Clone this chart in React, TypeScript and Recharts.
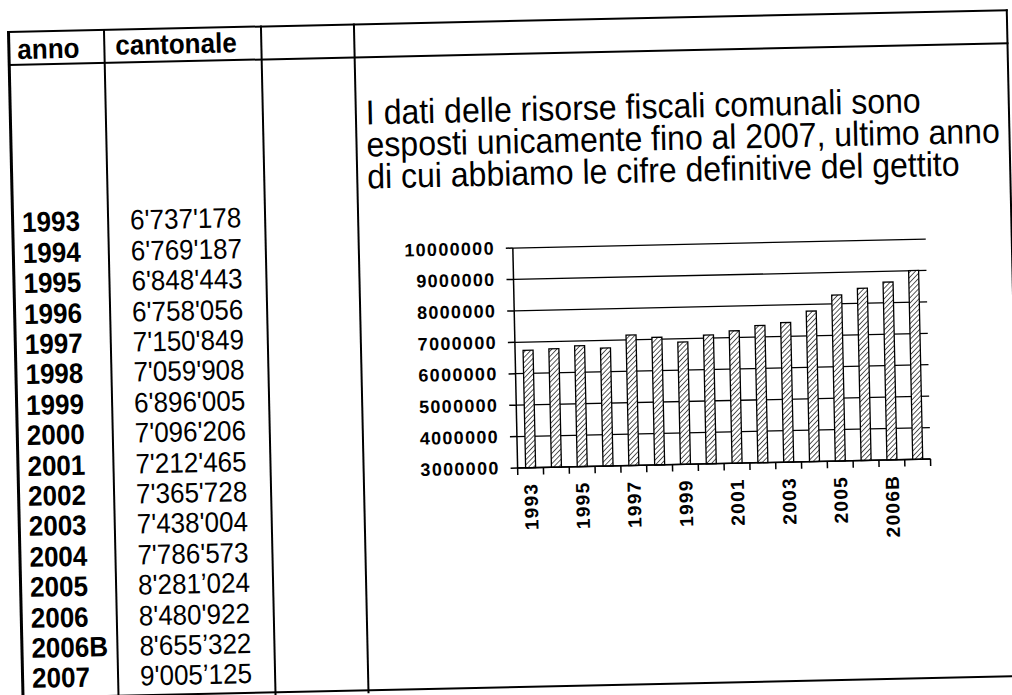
import React from 'react';
import { BarChart, Bar, XAxis, YAxis, CartesianGrid } from 'recharts';

const years = ['1993', '1994', '1995', '1996', '1997', '1998', '1999', '2000', '2001', '2002', '2003', '2004', '2005', '2006', '2006B', '2007'];
const cantonale = [6737178, 6769187, 6848443, 6758056, 7150849, 7059908, 6896005, 7096206, 7212465, 7365728, 7438004, 7786573, 8281024, 8480922, 8655322, 9005125];
const cantonaleLabels = ["6'737'178", "6'769'187", "6'848'443", "6'758'056", "7'150'849", "7'059'908", "6'896'005", "7'096'206", "7'212'465", "7'365'728", "7'438'004", "7'786'573", "8'281\u2019024", "8'480'922", "8'655\u2019322", "9'005\u2019125"];
const yTicks = [3000000, 4000000, 5000000, 6000000, 7000000, 8000000, 9000000, 10000000];
const headers = ['anno', 'cantonale'];
const noteLines = [
  'I dati delle risorse fiscali comunali sono',
  'esposti unicamente fino al 2007, ultimo anno',
  'di cui abbiamo le cifre definitive del gettito',
];

const data = years.map((y, i) => ({ anno: y, cantonale: cantonale[i] }));

const FONT = '"Liberation Sans", Arial, Helvetica, sans-serif';
const X_TICK_SIZE = 7;
const X_TICK_MARGIN = 8;

function XTick(props: any) {
  const { x, y, payload, index, width } = props;
  const step = width ? width / years.length : 2 * (payload?.offset || 13);
  const half = step / 2;
  const axisY = y - X_TICK_SIZE - X_TICK_MARGIN;
  const isLast = index === years.length - 1;
  return (
    <g>
      <line x1={x - half} x2={x - half} y1={axisY} y2={axisY + X_TICK_SIZE} stroke="#000" strokeWidth={1.5} />
      {isLast && <line x1={x + half} x2={x + half} y1={axisY} y2={axisY + X_TICK_SIZE} stroke="#000" strokeWidth={1.5} />}
      {index % 2 === 0 && (
        <text
          x={x}
          y={y}
          transform={`rotate(-90 ${x} ${y})`}
          textAnchor="end"
          dominantBaseline="central"
          fontSize={19}
          fontWeight="bold"
          fontFamily={FONT}
          letterSpacing={1.3}
          fill="#000"
        >
          {payload.value}
        </text>
      )}
    </g>
  );
}

function YTick(props: any) {
  const { x, y, payload } = props;
  return (
    <text x={x} y={y} textAnchor="end" dominantBaseline="central" fontSize={18} fontWeight="bold" fontFamily={FONT} letterSpacing={1.3} fill="#000">
      {payload.value}
    </text>
  );
}

function Line({ left, top, width, height }: { left: number; top: number; width: number; height: number }) {
  return <div style={{ position: 'absolute', left, top, width, height, background: '#000' }} />;
}

const tall: React.CSSProperties = { transform: 'scaleY(1.08)', transformOrigin: '0 75%' };

export default function App() {
  const rowCenter0 = 223;
  const rowStep = 30.4;
  return (
    <div style={{ position: 'absolute', left: 0, top: 0, width: 1012, height: 695, overflow: 'hidden', background: '#fff' }}>
      <div
        style={{
          position: 'absolute',
          left: 0,
          top: 0,
          width: 1012,
          height: 740,
          transform: 'rotate(-1.25deg)',
          transformOrigin: '8px 32px',
          fontFamily: FONT,
          color: '#000',
        }}
      >
        {/* table frame */}
        <Line left={8} top={31} width={1000} height={2} />
        <Line left={8} top={64} width={1000} height={2} />
        <Line left={7} top={31} width={3} height={670} />
        <Line left={103} top={31} width={2} height={670} />
        <Line left={260} top={31} width={2} height={670} />
        <Line left={353} top={31} width={2} height={670} />
        <Line left={1006} top={31} width={2} height={670} />
        <Line left={8} top={697} width={1000} height={2} />

        {/* headers */}
        <div style={{ position: 'absolute', left: 17, top: 37, fontSize: 26, fontWeight: 'bold', lineHeight: '26px', whiteSpace: 'nowrap', ...tall }}>{headers[0]}</div>
        <div style={{ position: 'absolute', left: 115, top: 35, fontSize: 26, fontWeight: 'bold', lineHeight: '26px', whiteSpace: 'nowrap', ...tall }}>{headers[1]}</div>

        {/* rows */}
        {years.map((y, i) => (
          <div key={'y' + y} style={{ position: 'absolute', left: 18, top: rowCenter0 + i * rowStep - 12.7, fontSize: 26, fontWeight: 'bold', lineHeight: '26px', whiteSpace: 'nowrap', ...tall }}>
            {y}
          </div>
        ))}
        {cantonaleLabels.map((v, i) => (
          <div key={'v' + i} style={{ position: 'absolute', left: 126, top: rowCenter0 + i * rowStep - 12.7, fontSize: 26, lineHeight: '26px', whiteSpace: 'nowrap', ...tall }}>
            {v}
          </div>
        ))}

        {/* note */}
        {noteLines.map((t, i) => (
          <div key={'n' + i} style={{ position: 'absolute', left: 364, top: 105 + i * 32, fontSize: 32, lineHeight: '32px', whiteSpace: 'nowrap', ...tall }}>
            {t}
          </div>
        ))}

        {/* chart */}
        <div style={{ position: 'absolute', left: 380, top: 240 }}>
          <BarChart width={560} height={330} data={data} margin={{ top: 19, right: 19, left: 0, bottom: 5 }}>
            <defs>
              <pattern id="hatch" width="3.6" height="3.6" patternUnits="userSpaceOnUse" patternTransform="rotate(45)">
                <rect width="3.6" height="3.6" fill="#fff" />
                <line x1="0" y1="0" x2="0" y2="3.6" stroke="#000" strokeWidth="1.3" />
              </pattern>
            </defs>
            <CartesianGrid vertical={false} stroke="#000" strokeWidth={1.3} />
            <XAxis
              dataKey="anno"
              interval={0}
              tickLine={false}
              axisLine={{ stroke: '#000', strokeWidth: 1.5 }}
              tickSize={X_TICK_SIZE}
              tickMargin={X_TICK_MARGIN}
              height={86}
              tick={(p: any) => <XTick {...p} />}
            />
            <YAxis
              domain={[3000000, 10000000]}
              ticks={yTicks}
              interval={0}
              width={128}
              tickSize={7}
              tickMargin={11}
              axisLine={{ stroke: '#000', strokeWidth: 1.5 }}
              tickLine={{ stroke: '#000', strokeWidth: 1.5 }}
              tick={(p: any) => <YTick {...p} />}
            />
            <Bar dataKey="cantonale" barSize={10} fill="url(#hatch)" stroke="#000" strokeWidth={1.3} isAnimationActive={false} />
          </BarChart>
        </div>
      </div>
    </div>
  );
}
